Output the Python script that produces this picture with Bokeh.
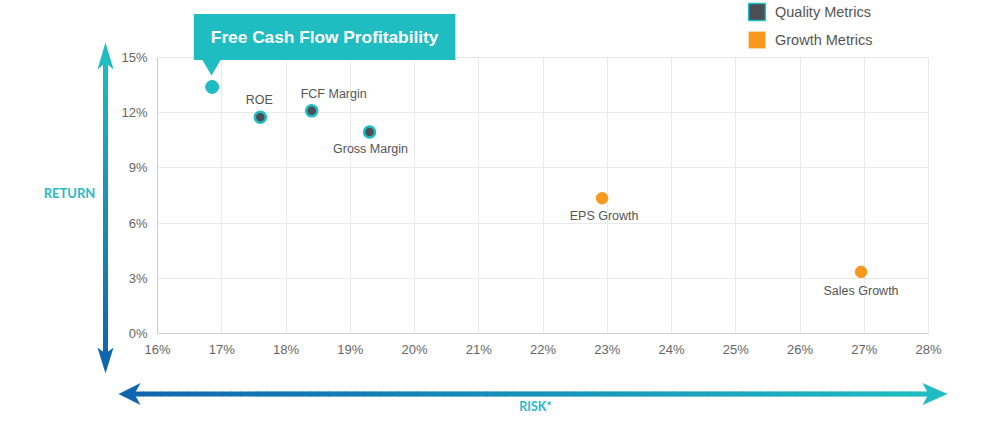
from bokeh.plotting import figure
from bokeh.models import (ColumnDataSource, Label, BoxAnnotation, PolyAnnotation, Range1d,
                          PrintfTickFormatter, FixedTicker, Legend, LegendItem, Grid)
from bokeh.core.properties import value
from bokeh.embed import file_html
from bokeh.resources import INLINE

# ---------------- data ----------------
names = ["Free Cash Flow Profitability", "ROE", "FCF Margin", "Gross Margin", "EPS Growth", "Sales Growth"]
risk = [16.85, 17.6, 18.4, 19.3, 22.92, 26.95]        # %
ret = [13.4, 11.75, 12.1, 10.95, 7.35, 3.35]          # %
group = ["Highlight", "Quality", "Quality", "Quality", "Growth", "Growth"]
x_ticks = [16, 17, 18, 19, 20, 21, 22, 23, 24, 25, 26, 27, 28]
y_ticks = [0, 3, 6, 9, 12, 15]
legend_groups = ["Quality", "Growth"]
legend_labels = ["Quality Metrics", "Growth Metrics"]
x_title = "RISK*"
y_title = "RETURN"

# ---------------- style ----------------
TEAL = "#1fbcc2"
DARK = "#4b4f55"
ORANGE = "#f8991d"
BLUE = "#1066ae"
GRID = "#e9e9e9"
AXIS = "#cfcfcf"
TICK = "#666666"
LBL = "#555555"
TITLE = "#2bbac4"

# label offsets (px): dx right, dy down
label_off = {"ROE": (-1, -17), "FCF Margin": (22, -17), "Gross Margin": (1, 17),
             "EPS Growth": (2, 18), "Sales Growth": (0, 19)}

W, H = 993, 431
FL, FR, FT, FB = 157, 928, 57, 333   # plot-area edges in canvas px
x0, x1 = x_ticks[0], x_ticks[-1]
y0, y1 = y_ticks[0], y_ticks[-1]
ppx = (FR - FL) / (x1 - x0)
ppy = (FB - FT) / (y1 - y0)

p = figure(width=W, height=H, output_backend="svg", toolbar_location=None,
           x_range=Range1d(x0 - FL / ppx, x1 + (W - FR) / ppx),
           y_range=Range1d(y0 - (H - FB) / ppy, y1 + FT / ppy),
           min_border=0, min_border_left=0, min_border_right=0, min_border_top=0, min_border_bottom=0)
p.outline_line_color = None
p.background_fill_color = "white"
p.border_fill_color = "white"

for ax, ticks in ((p.xaxis, x_ticks), (p.yaxis, y_ticks)):
    ax.ticker = FixedTicker(ticks=ticks)
    ax.formatter = PrintfTickFormatter(format="%d%%")
    ax.axis_line_color = AXIS
    ax.major_tick_line_color = None
    ax.minor_tick_line_color = None
    ax.major_tick_out = 0
    ax.major_tick_in = 0
    ax.minor_tick_out = 0
    ax.major_label_text_font = "Liberation Sans"
    ax.major_label_text_font_size = "13px"
    ax.major_label_text_color = TICK
p.xaxis.bounds = (x0, x1)
p.yaxis.bounds = (y0, y1)
p.xaxis.fixed_location = y0
p.yaxis.fixed_location = x0
p.xaxis.major_label_standoff = 8
p.yaxis.major_label_standoff = 10

p.xgrid.grid_line_color = GRID
p.ygrid.grid_line_color = GRID
p.xgrid.ticker = FixedTicker(ticks=x_ticks)
p.ygrid.ticker = FixedTicker(ticks=y_ticks)
p.xgrid.bounds = (x0, x1)
p.ygrid.bounds = (y0, y1)
HAS_CB = "cross_bounds" in Grid.properties()
if HAS_CB:
    p.xgrid.cross_bounds = (y0, y1)
    p.ygrid.cross_bounds = (x0, x1)


def sx(cx):
    return cx


def sy(cy):
    return H - cy


def mix(c1, c2, t):
    a = [int(c1[i:i + 2], 16) for i in (1, 3, 5)]
    b = [int(c2[i:i + 2], 16) for i in (1, 3, 5)]
    return "#%02x%02x%02x" % tuple(round(a[k] + (b[k] - a[k]) * t) for k in range(3))


def box(xa, xb, ya, yb, color, level="annotation"):
    p.add_layout(BoxAnnotation(left=sx(xa), right=sx(xb), top=sy(ya), bottom=sy(yb),
                               left_units="screen", right_units="screen",
                               top_units="screen", bottom_units="screen",
                               fill_color=color, fill_alpha=1, line_color=None, level=level))


def poly(pts, color):
    p.add_layout(PolyAnnotation(xs=[sx(a) for a, b in pts], ys=[sy(b) for a, b in pts],
                                xs_units="screen", ys_units="screen",
                                fill_color=color, fill_alpha=1, line_color=None))


if not HAS_CB:
    # white masks hiding grid lines outside the plot area
    box(0, W, 0, FT - 0.5, "white", "glyph")
    box(0, W, FB + 0.5, H, "white", "glyph")
    box(0, FL - 0.5, 0, H, "white", "glyph")
    box(FR + 0.5, W, 0, H, "white", "glyph")

# vertical RETURN arrow (teal top -> blue bottom)
VX, VT, VB = 105, 62, 354
n = 60
for i in range(n):
    ya = VT + (VB - VT) * i / n
    yb = VT + (VB - VT) * (i + 1) / n
    box(VX - 2.5, VX + 2.5, ya - 0.4, yb + 0.4, mix(TEAL, BLUE, (i + 0.5) / n))
poly([(VX, 42), (VX + 8, 69), (VX, 62), (VX - 8, 69)], TEAL)
poly([(VX, 373), (VX + 8, 347), (VX, 353), (VX - 8, 347)], BLUE)

# horizontal RISK arrow (blue left -> teal right)
HY, HL, HR = 393.5, 134, 928
n = 90
for i in range(n):
    xa = HL + (HR - HL) * i / n
    xb = HL + (HR - HL) * (i + 1) / n
    box(xa - 0.4, xb + 0.4, HY - 2.6, HY + 2.6, mix(BLUE, TEAL, (i + 0.5) / n))
poly([(118, HY), (140, HY - 11), (134, HY), (140, HY + 11)], BLUE)
poly([(947, HY), (922, HY - 11), (928, HY), (922, HY + 11)], TEAL)

# axis titles
p.add_layout(Label(x=sx(69), y=sy(192), x_units="screen", y_units="screen", text=y_title,
                   text_align="center", text_baseline="middle", text_font="Lato",
                   text_font_style="bold", text_font_size="13px", text_color=TITLE))
p.add_layout(Label(x=sx(535), y=sy(406), x_units="screen", y_units="screen", text=x_title,
                   text_align="center", text_baseline="middle", text_font="Lato",
                   text_font_style="bold", text_font_size="12.5px", text_color=TITLE))

# ---------------- points ----------------
col = {"Highlight": TEAL, "Quality": DARK, "Growth": ORANGE}
for g, size, lc, lw in (("Highlight", 13, TEAL, 1), ("Quality", 11, TEAL, 2.5), ("Growth", 11.5, ORANGE, 1)):
    idx = [i for i, gg in enumerate(group) if gg == g]
    src = ColumnDataSource(dict(x=[risk[i] for i in idx], y=[ret[i] for i in idx]))
    p.scatter("x", "y", source=src, size=size, fill_color=col[g], line_color=lc, line_width=lw)

# point labels
lab_idx = [i for i, n_ in enumerate(names) if n_ in label_off]
lsrc = ColumnDataSource(dict(x=[risk[i] for i in lab_idx], y=[ret[i] for i in lab_idx],
                             t=[names[i] for i in lab_idx],
                             dx=[label_off[names[i]][0] for i in lab_idx],
                             dy=[label_off[names[i]][1] for i in lab_idx]))
p.text("x", "y", text="t", source=lsrc, x_offset="dx", y_offset="dy",
       text_align="center", text_baseline="middle", text_font=value("Liberation Sans"),
       text_font_size="12.5px", text_color=LBL)

# callout for highlighted point
p.add_layout(Label(x=risk[0], y=ret[0], x_offset=112.5, y_offset=50, text=names[0],
                   text_align="center", text_baseline="middle", text_font="Liberation Sans",
                   text_font_style="bold", text_font_size="17.3px", text_color="white",
                   background_fill_color=TEAL, background_fill_alpha=1, padding=(17, 13)))
poly([(201, 58), (221, 58), (211, 75)], TEAL)

# ---------------- legend ----------------
# zero-size proxy squares (one per group) that only supply the legend swatch style
swatch = {"Quality": dict(fill_color=DARK, line_color=TEAL, line_width=1.5),
          "Growth": dict(fill_color=ORANGE, line_color=None)}
items = []
for g, lab in zip(legend_groups, legend_labels):
    idx = [i for i, gg in enumerate(group) if gg == g]
    xs = [risk[i] for i in idx]
    ys = [ret[i] for i in idx]
    r = p.quad(left=xs, right=xs, top=ys, bottom=ys, **swatch[g])
    items.append(LegendItem(label=lab, renderers=[r]))
leg = Legend(items=items, location=(746, H - 50), orientation="vertical",
             glyph_width=21, glyph_height=21, label_height=21, spacing=7, padding=0, margin=0,
             border_line_color=None, background_fill_alpha=0, label_standoff=8,
             label_text_font="Liberation Sans", label_text_font_size="14.5px", label_text_color=LBL)
p.add_layout(leg, "center")

open("out.html", "w").write(file_html(p, INLINE))
